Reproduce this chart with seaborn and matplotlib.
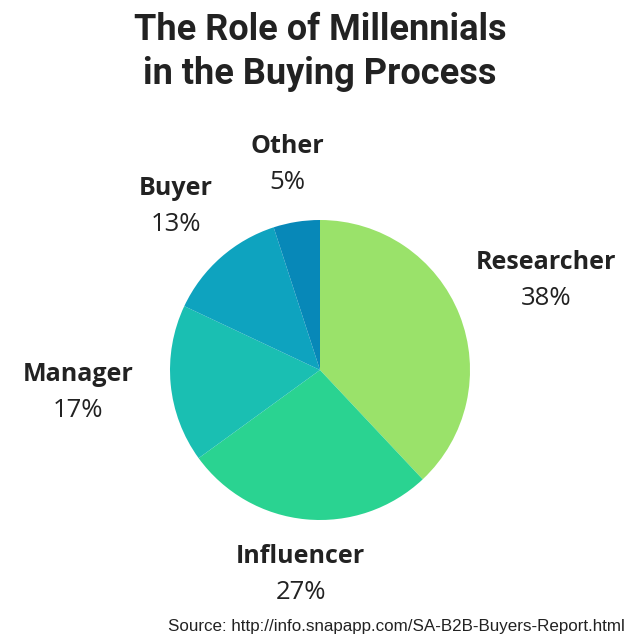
import numpy as np
import matplotlib
matplotlib.use('Agg')
import matplotlib.pyplot as plt
import seaborn as sns

# Dados do gráfico
papeis = ['Researcher', 'Influencer', 'Manager', 'Buyer', 'Other']
percentuais = [38, 27, 17, 13, 5]
cores = ['#9ae26a', '#2ad391', '#1abfb2', '#0ea3bf', '#0788b8']

titulo = 'The Role of Millennials\nin the Buying Process'
fonte = 'Source: http://info.snapapp.com/SA-B2B-Buyers-Report.html'

sns.set_theme(style='white')
plt.rcParams['font.family'] = ['Open Sans', 'DejaVu Sans']

fig = plt.figure(figsize=(6.4, 6.4), dpi=100)
ax = fig.add_axes([0, 0, 1, 1])

cx, cy, raio = 320, 270, 150
wedges, _ = ax.pie(percentuais, colors=cores, startangle=90, counterclock=False,
                   center=(cx, cy), radius=raio, frame=True,
                   wedgeprops=dict(linewidth=0))
ax.set_xlim(0, 640)
ax.set_ylim(0, 640)
ax.set_aspect('equal')
ax.axis('off')

# distância dos rótulos (em múltiplos do raio)
dist = [1.62, 1.37, 1.62, 1.45, 1.39]
for w, nome, pct, d in zip(wedges, papeis, percentuais, dist):
    ang = np.deg2rad((w.theta1 + w.theta2) / 2)
    x = cx + d * raio * np.cos(ang)
    y = cy + d * raio * np.sin(ang)
    ax.text(x, y + 18, nome, ha='center', va='center', fontsize=18,
            fontweight='bold', color='#222222')
    ax.text(x, y - 18, f'{pct}%', ha='center', va='center', fontsize=18.5,
            color='#222222')

fig.text(0.5, 1 - 52 / 640, titulo, ha='center', va='center', fontsize=26,
         fontweight='bold', color='#222222', family='Roboto', linespacing=1.3)
fig.text(625 / 640, 1 - 627 / 640, fonte, ha='right', va='center', fontsize=12.25,
         color='#222222', family='Liberation Sans')

fig.savefig('out.png', dpi=100, facecolor='white')
